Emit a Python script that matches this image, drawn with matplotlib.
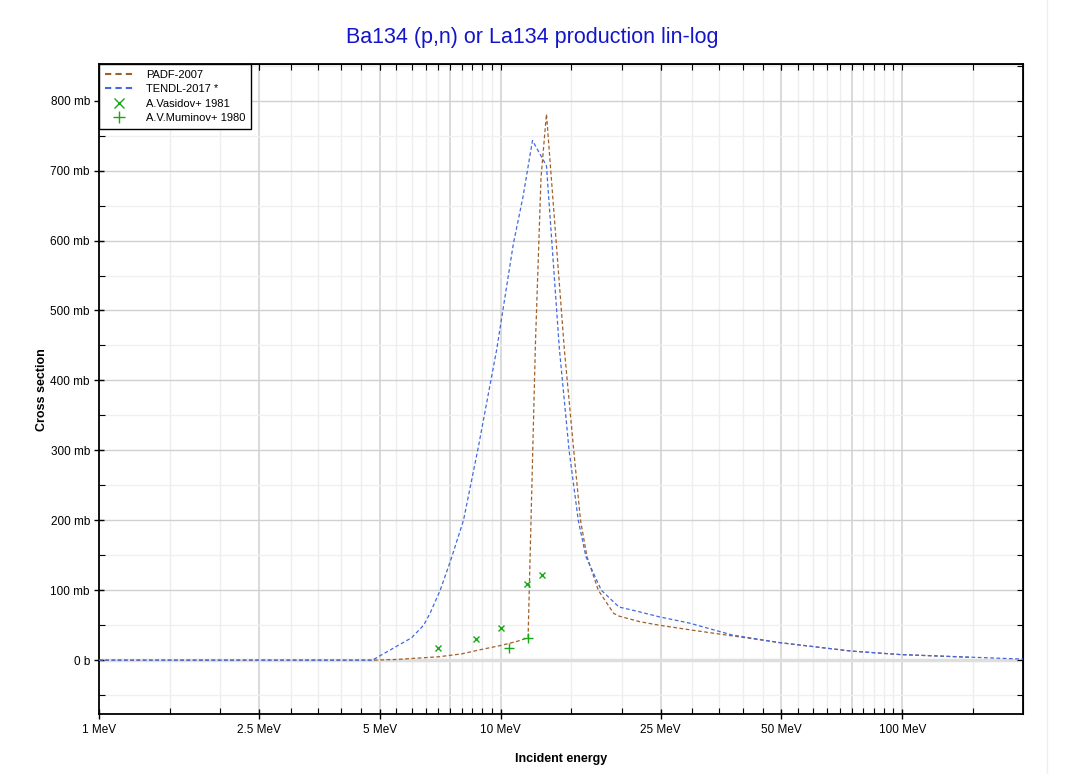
import numpy as np
import matplotlib
matplotlib.use("Agg")
import matplotlib.pyplot as plt
from matplotlib.lines import Line2D

plt.rcParams['font.family'] = ['Liberation Sans', 'DejaVu Sans']

# PADF-2007 evaluation (MeV, mb)
padf_e = [1.0, 4.8, 5.5, 6.0, 7.0, 8.0, 8.9, 10.0, 11.0, 11.7,
          12.2, 12.6, 13.0, 13.5, 14.4, 15.2, 15.8, 16.4, 17.5, 19.1,
          19.7, 22.2, 24.8, 29.9, 49.6, 74.5, 98.8, 148.0]
padf_xs = [0.0, 0.0, 1.0, 2.4, 4.8, 9.0, 15.0, 21.0, 27.0, 32.0,
           450.0, 690.0, 781.0, 657.0, 445.0, 300.0, 200.0, 148.0, 100.0, 67.0,
           63.0, 55.0, 50.0, 43.0, 25.0, 13.0, 8.0, 4.0]

# TENDL-2017 evaluation (MeV, mb)
tendl_e = [1.0, 4.79, 6.0, 6.43, 6.67, 7.07, 7.5, 8.08, 8.8, 9.78,
           10.75, 11.36, 12.0, 13.0, 14.0, 14.8, 15.6, 16.3, 17.8, 19.7,
           22.2, 24.8, 29.5, 37.7, 49.6, 74.5, 98.8, 200.0]
tendl_xs = [0.0, 0.0, 32.0, 50.0, 67.0, 100.0, 142.0, 200.0, 305.0, 445.0,
            595.0, 662.0, 743.0, 707.0, 445.0, 300.0, 200.0, 148.0, 100.0, 76.0,
            69.0, 62.0, 53.0, 36.0, 25.0, 13.0, 8.0, 1.5]

# measurements
vasidov_e = [7.0, 8.7, 10.0, 11.6, 12.7]
vasidov_xs = [17.6, 30.0, 46.7, 109.5, 122.0]
muminov_e = [10.5, 11.7]
muminov_xs = [17.1, 31.9]

x_ticks = [1, 2.5, 5, 10, 25, 50, 100]
x_labels = ["1 MeV", "2.5 MeV", "5 MeV", "10 MeV", "25 MeV", "50 MeV", "100 MeV"]
y_ticks = [0, 100, 200, 300, 400, 500, 600, 700, 800]
y_labels = ["0 b"] + ["%d mb" % v for v in y_ticks[1:]]

brown = '#a0602a'
blue = '#4169e1'
green = '#18a818'

fig = plt.figure(figsize=(10.71, 7.74), dpi=100)
ax = fig.add_axes([0.0924, 0.0775, 0.8631, 0.8394])
ax.set_xscale('log')
ax.set_xlim(1, 200)
ax.set_ylim(-77, 852)

# grid
minor_x = list(np.arange(1.5, 10, 0.5)) + list(np.arange(15, 100, 5)) + [150]
dark_x = [2.5, 5, 7.5, 10, 25, 50, 75, 100]
minor_y = np.arange(-50, 851, 100)
for v in minor_x:
    if v not in dark_x:
        ax.axvline(v, color='#eeeeee', lw=1, zorder=0)
for v in dark_x:
    ax.axvline(v, color='#d4d4d4', lw=1.2, zorder=0)
for v in minor_y:
    ax.axhline(v, color='#f0f0f0', lw=1, zorder=0)
for v in y_ticks:
    ax.axhline(v, color='#d0d0d0', lw=1, zorder=0)
ax.axhline(0, color='#dedede', lw=2.5, zorder=0)

ls = (0, (3, 2))
ax.plot(padf_e, padf_xs, color=brown, lw=0.9, ls=ls, zorder=3)
ax.plot(tendl_e, tendl_xs, color=blue, lw=0.9, ls=ls, zorder=3)
ax.plot(vasidov_e, vasidov_xs, 'x', color=green, ms=4.5, mew=1, zorder=4)
ax.plot(muminov_e, muminov_xs, '+', color=green, ms=6.5, mew=1, zorder=4)

ax.set_xticks(x_ticks, x_labels)
ax.set_xticks(minor_x, minor=True)
ax.set_xticklabels([], minor=True)
ax.set_yticks(y_ticks, y_labels)
ax.set_yticks(minor_y, minor=True)
ax.tick_params(axis='both', which='major', direction='inout', length=7, width=1,
               labelsize=8.5, top=False, right=False, color='black')
ax.tick_params(axis='both', which='minor', direction='in', length=4, width=0.8,
               top=False, right=False)
ax.tick_params(axis='x', which='major', pad=4)
ax.tick_params(axis='y', which='major', pad=3)
for s in ax.spines.values():
    s.set_linewidth(1.3)

# inward ticks on top and right edges
top = ax.secondary_xaxis('top')
top.set_xticks(list(x_ticks) + minor_x, [""] * (len(x_ticks) + len(minor_x)))
top.tick_params(direction='in', length=4, width=0.8)
top.xaxis.set_minor_locator(matplotlib.ticker.NullLocator())
right = ax.secondary_yaxis('right')
right.set_yticks(list(y_ticks) + list(minor_y), [""] * (len(y_ticks) + len(minor_y)))
right.tick_params(direction='in', length=4, width=0.8)

ax.set_xlabel("Incident energy", fontsize=9, fontweight='bold', labelpad=12)
ax.set_ylabel("Cross section", fontsize=9, fontweight='bold', labelpad=2)

handles = [
    Line2D([], [], color=brown, lw=1.5, ls=(0, (3, 2))),
    Line2D([], [], color=blue, lw=1.5, ls=(0, (3, 2))),
    Line2D([], [], color=green, marker='x', ls='none', ms=7, mew=1),
    Line2D([], [], color=green, marker='+', ls='none', ms=9, mew=1),
]
names = ["PADF-2007", "TENDL-2017 *", "A.Vasidov+ 1981", "A.V.Muminov+ 1980"]
leg = ax.legend(handles, names, loc='upper left', bbox_to_anchor=(0, 1),
                borderaxespad=0, fontsize=8, fancybox=False, framealpha=1,
                edgecolor='black', handlelength=2.6, labelspacing=0.4,
                handletextpad=1.1, borderpad=0.5)
leg.get_frame().set_linewidth(1.0)
leg.set_zorder(10)

fig.text(0.497, 1 - 43 / 774, "Ba134 (p,n) or La134 production lin-log",
         ha='center', va='baseline', color='#1414c8', fontsize=15.5)
fig.add_artist(Line2D([1047 / 1071, 1047 / 1071], [0, 1], color='#eeeeee', lw=1))

fig.savefig("out.png", dpi=100)
